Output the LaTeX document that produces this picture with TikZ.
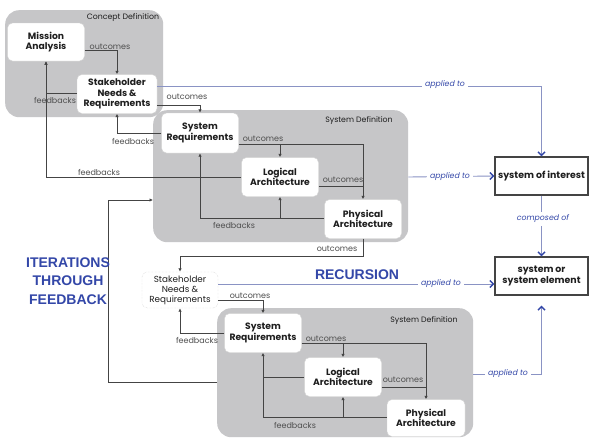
\documentclass[tikz,border=0pt]{standalone}
\usepackage{fontspec}
\setmainfont{Poppins}
\newfontfamily\arialfont{Liberation Sans}
\usetikzlibrary{arrows.meta,calc}
\definecolor{greyfill}{HTML}{C6C6C8}
\definecolor{lineC}{HTML}{444444}
\definecolor{blueT}{HTML}{3347A8}
\definecolor{blueL}{HTML}{8A93C4}
\definecolor{txtC}{HTML}{1E1E1E}
\definecolor{lblC}{HTML}{4E4E4E}
\begin{document}
\begin{tikzpicture}[x=1pt,y=-1pt,
  region/.style={fill=greyfill, rounded corners=14pt, draw=none, inner sep=0pt, anchor=north west},
  wbox/.style={draw=gray!35, fill=white, rounded corners=5pt, align=center, text=txtC,
    font=\bfseries\fontsize{9.2}{10.5}\selectfont, inner sep=1pt, minimum width=77, minimum height=39},
  rbox/.style={draw=lineC, line width=1.3pt, fill=white, align=center, text=txtC,
    font=\bfseries\fontsize{9.4}{11}\selectfont, minimum width=93, minimum height=38, inner sep=1pt},
  flow/.style={draw=lineC, line width=0.9pt, -{Latex[length=3.5pt,width=3.5pt]}},
  plain/.style={draw=lineC, line width=0.9pt},
  lbl/.style={font=\fontsize{8}{9}\selectfont, text=lblC, inner sep=0pt},
  tlbl/.style={font=\fontsize{7.8}{9}\selectfont, text=txtC, inner sep=0pt},
  bline/.style={draw=blueL, line width=0.9pt},
  barrow/.style={draw=blueL, line width=0.9pt, -{Straight Barb[length=3.5pt,width=7pt,line width=1.4pt,color=blueT]}},
  blbl/.style={font=\itshape\fontsize{7.8}{9}\selectfont, text=blueT, fill=white, inner sep=3pt},
  big/.style={font=\arialfont\bfseries\fontsize{14}{18.5}\selectfont, text=blueT, align=center}
]
\useasboundingbox (0,0) rectangle (589,439);
\fill[white] (0,0) rectangle (589,439);

% regions
\node[region, minimum width=158, minimum height=107] (cd) at (5,10) {};
\node[region, minimum width=255, minimum height=132] (sd1) at (153,110) {};
\node[region, minimum width=256, minimum height=129] (sd2) at (217,308) {};
\node[tlbl] (cdl) at (123,18) {Concept Definition};
\node[tlbl] (sd1l) at (359,121) {System Definition};
\node[tlbl] (sd2l) at (424,321) {System Definition};

% white boxes
\node[wbox, minimum height=38] (ma) at (46,42) {Mission\\Analysis};
\node[wbox, minimum width=80] (snr1) at (117,94) {Stakeholder\\Needs \&\\Requirements};
\node[wbox, minimum height=40] (sr1) at (200,133) {System\\Requirements};
\node[wbox] (la1) at (280,177) {Logical\\Architecture};
\node[wbox] (pa1) at (363,219) {Physical\\Architecture};
\node[wbox, minimum width=76, minimum height=36, font=\fontsize{8.8}{10}\selectfont, draw=gray!45, densely dotted] (snr2) at (180,290) {Stakeholder\\Needs \&\\Requirements};
\node[wbox] (sr2) at (263,333) {System\\Requirements};
\node[wbox] (la2) at (343,377) {Logical\\Architecture};
\node[wbox, minimum width=78, minimum height=37] (pa2) at (426,418) {Physical\\Architecture};

\node[rbox] (soi) at (541.5,176) {system of interest};
\node[rbox] (sse) at (541.5,276) {system or\\system element};

% concept definition flows
\draw[flow] (ma.east |- 0,50) -| (snr1.north);
\draw[flow] (snr1.west |- 0,93) -| (ma.south);
\draw[flow] (la1.west) -| (ma.south);
\draw[flow] (snr1.east |- 0,105) -| (sr1.north);
\draw[flow] (sr1.west) -| (snr1.south);

% system definition 1
\draw[flow] (sr1.east |- 0,144) -| (pa1.north);
\draw[flow] (la1.north |- 0,144) -- (la1.north);
\draw[plain] (la1.east |- 0,186) -- (pa1.north |- 0,186);
\draw[flow] (pa1.west |- 0,218) -| (sr1.south);
\draw[flow] (la1.south |- 0,218) -- (la1.south);
\draw[flow] (pa1.south) -- (pa1.south |- 0,256) -| (snr2.north);

% second level
\draw[flow] (snr2.east |- 0,300) -| (sr2.north);
\draw[flow] (sr2.west) -| (snr2.south);
\draw[flow] (sr2.east |- 0,343) -| (pa2.north);
\draw[flow] (la2.north |- 0,343) -- (la2.north);
\draw[plain] (la2.east |- 0,387) -- (pa2.north |- 0,387);
\draw[flow] (pa2.west |- 0,417) -| (sr2.south);
\draw[flow] (la2.south |- 0,417) -- (la2.south);
\draw[plain] (la2.west) -- (sr2.south |- la2.west);

% iteration loop
\draw[flow] (sd2.west |- 0,382) -| (108,200) -- (sd1.west |- 0,200);

% labels
\node[lbl] (o1) at (110,47) {outcomes};
\node[lbl] (f1) at (55,100) {feedbacks};
\node[lbl] (f2) at (99,172) {feedbacks};
\node[lbl] (o2) at (187,97) {outcomes};
\node[lbl] (f3) at (133,141) {feedbacks};
\node[lbl] (o3) at (263,139) {outcomes};
\node[lbl] (o4) at (343,180) {outcomes};
\node[lbl] (f4) at (234,225) {feedbacks};
\node[lbl] (o5) at (337,249) {outcomes};
\node[lbl] (o6) at (250,296) {outcomes};
\node[lbl] (f5) at (197,340) {feedbacks};
\node[lbl] (o7) at (326,339) {outcomes};
\node[lbl] (o8) at (403,380) {outcomes};
\node[lbl] (f6) at (295,425) {feedbacks};

% blue relations
\draw[barrow] (snr1.east |- 0,86) -| (soi.north);
\draw[barrow] (sd1.east |- 0,177) -- (soi.west);
\draw[barrow] (soi.south) -- (sse.north);
\draw[barrow] (snr2.east |- 0,284) -- (sse.west |- 0,284);
\draw[barrow, shorten >=10pt] (sd2.east |- 0,374) -| (sse.south);
\node[blbl] (a1) at (445,85) {applied to};
\node[blbl] (a2) at (450,177) {applied to};
\node[blbl] (c1) at (543,219) {composed of};
\node[blbl] (a3) at (441,284) {applied to};
\node[blbl] (a4) at (508,374) {applied to};

\node[big] (rec) at (357,275) {RECURSION};
\node[big] (iter) at (68,281) {ITERATIONS\\THROUGH\\FEEDBACK};
\end{tikzpicture}
\end{document}
